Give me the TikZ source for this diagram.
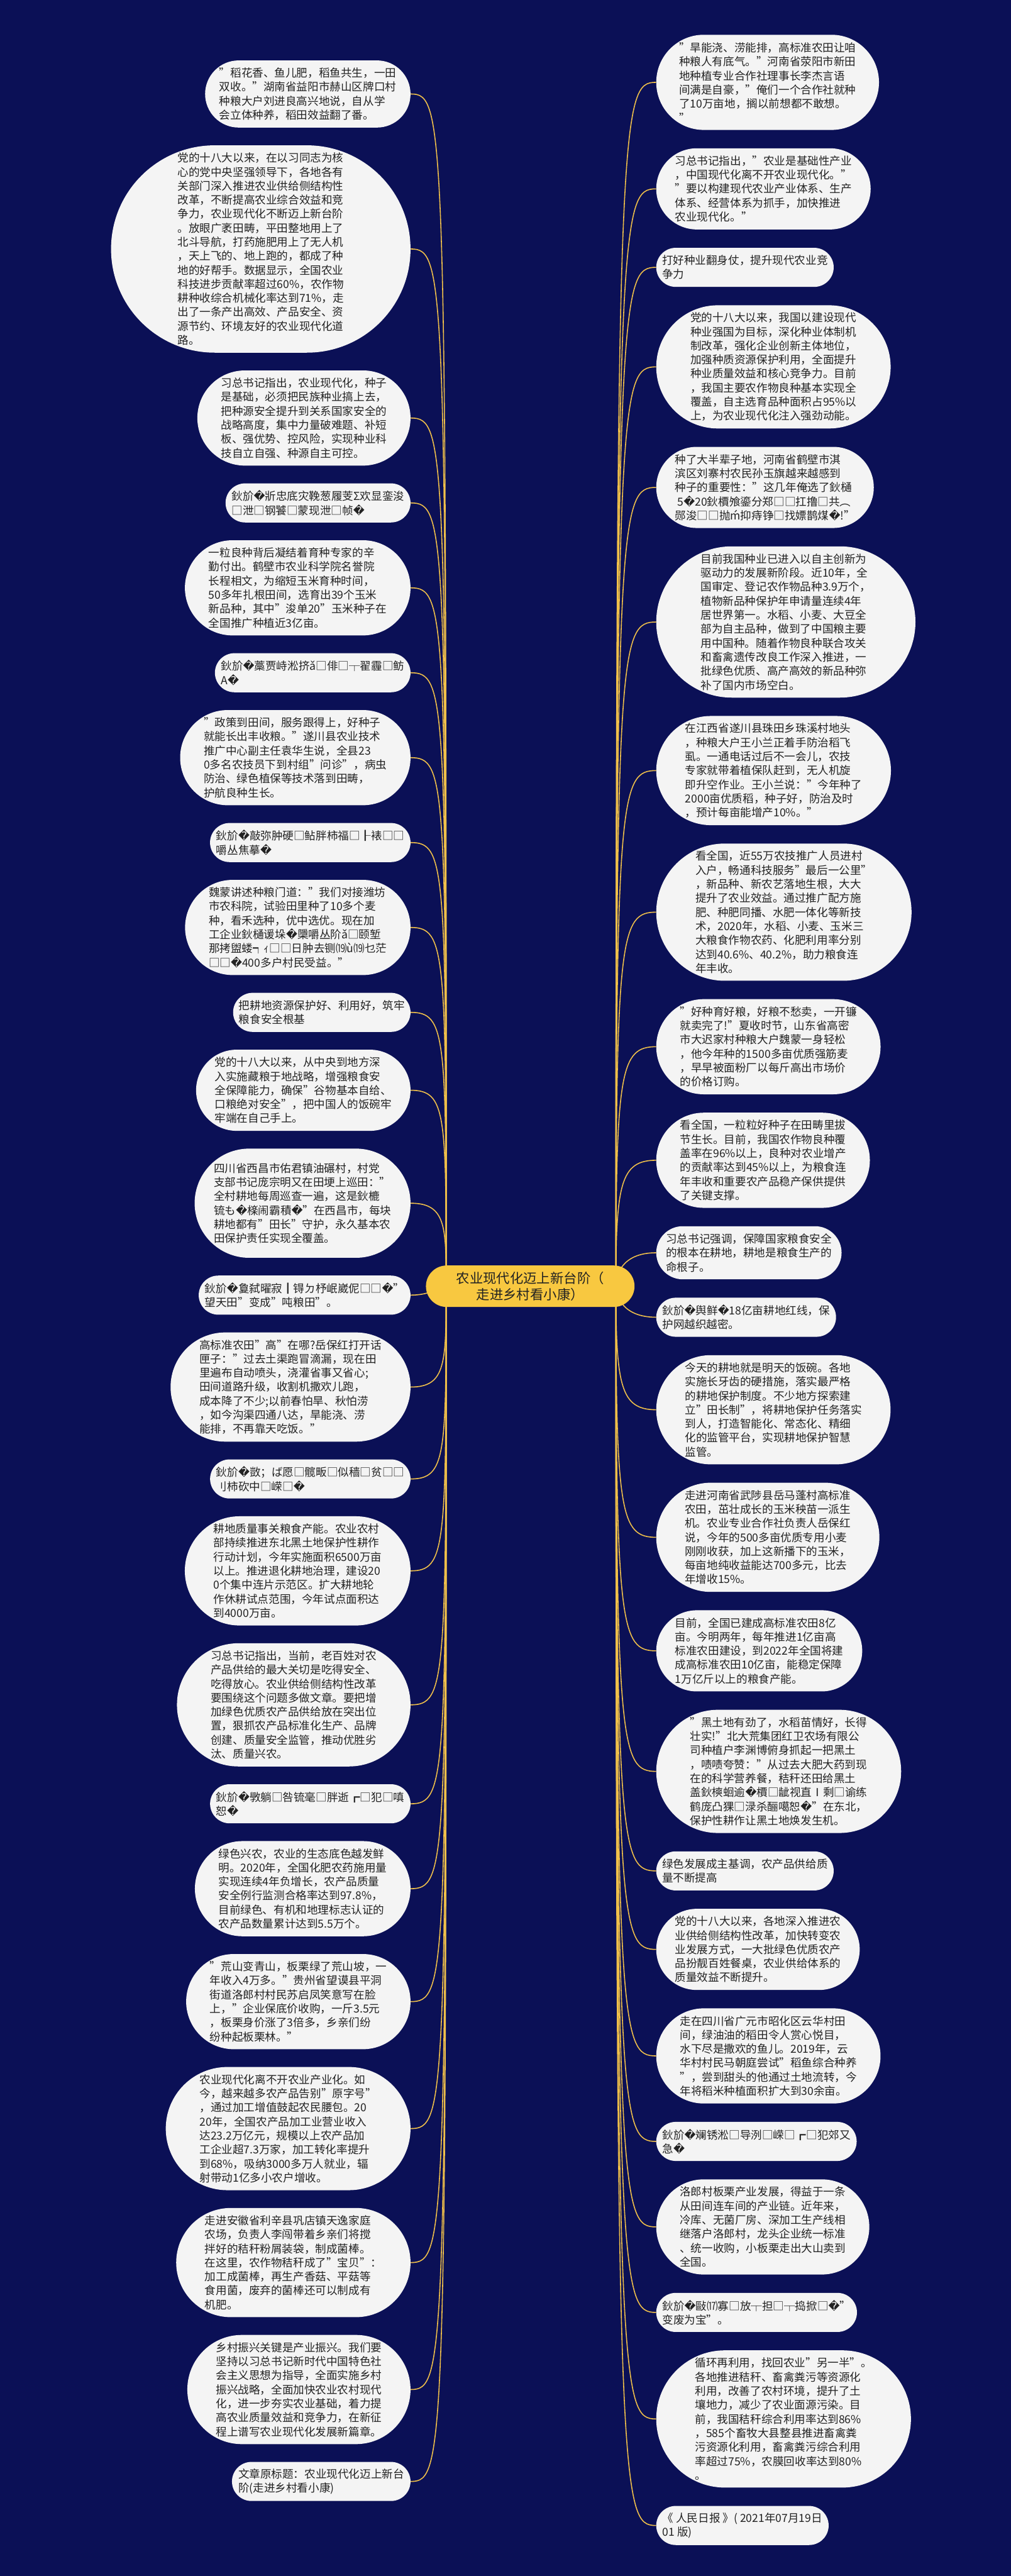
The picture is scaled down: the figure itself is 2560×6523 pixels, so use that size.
\documentclass[tikz,border=0pt]{standalone}
\usepackage{fontspec}
\setmainfont{Noto Sans CJK SC}
\newfontfamily\dvfont{DejaVu Sans}
\usetikzlibrary{shapes.misc,calc}
\definecolor{navy}{HTML}{0B1056}
\definecolor{boxfill}{HTML}{F4F4F4}
\definecolor{gold}{HTML}{F0C04A}
\definecolor{rootfill}{HTML}{F8C840}
\definecolor{txt}{HTML}{222222}
\newcommand{\rp}{{\dvfont\symbol{"FFFD}}}
\pgfdeclarelayer{bg}\pgfdeclarelayer{links}\pgfsetlayers{bg,links,main}
\begin{document}
\begin{tikzpicture}[x=1pt,y=-1pt,
  pill/.style={rounded rectangle, fill=boxfill, text=txt, inner xsep=4pt, inner ysep=0pt, align=left, font=\fontsize{28}{35.5}\selectfont},
  lpill/.style={pill, anchor=east},
  rpill/.style={pill, anchor=west},
  link/.style={draw=gold, line width=2.5pt},
  h2/.style={minimum height=99pt}, h3/.style={minimum height=134.5pt},
  h4/.style={minimum height=170pt}, h5/.style={minimum height=205.5pt},
  h6/.style={minimum height=241pt}, h7/.style={minimum height=276.5pt},
  h8/.style={minimum height=312pt}, h9/.style={minimum height=347.5pt},
  h10/.style={minimum height=383pt}, h14/.style={minimum height=525pt},
  ]
\begin{pgfonlayer}{bg}
\fill[navy] (0,0) rectangle (2560,6523);
\end{pgfonlayer}
\coordinate (cL) at (1130,3257);
\coordinate (cR) at (1560,3257);
\node[rounded rectangle, fill=rootfill, text=txt, minimum height=105pt, minimum width=535pt, inner ysep=0pt, align=center, font=\fontsize{34}{42}\selectfont] (root) at (1343,3257) {农业现代化迈上新台阶（\\走进乡村看小康）};
% ---------- left column
\node[lpill,h4] (L1) at (1040,238) {"稻花香、鱼儿肥，稻鱼共生，一田\\双收。"湖南省益阳市赫山区牌口村\\种粮大户刘进良高兴地说，自从学\\会立体种养，稻田效益翻了番。};
\node[lpill,h14] (L2) at (1040,630.5) {党的十八大以来，在以习同志为核\\心的党中央坚强领导下，各地各有\\关部门深入推进农业供给侧结构性\\改革，不断提高农业综合效益和竞\\争力，农业现代化不断迈上新台阶\\。放眼广袤田畴，平田整地用上了\\北斗导航，打药施肥用上了无人机\\，天上飞的、地上跑的，都成了种\\地的好帮手。数据显示，全国农业\\科技进步贡献率超过60\%，农作物\\耕种收综合机械化率达到71\%，走\\出了一条产出高效、产品安全、资\\源节约、环境友好的农业现代化道\\路。};
\node[lpill,h6] (L3) at (1040,1058.5) {习总书记指出，农业现代化，种子\\是基础，必须把民族种业搞上去，\\把种源安全提升到关系国家安全的\\战略高度，集中力量破难题、补短\\板、强优势、控风险，实现种业科\\技自立自强、种源自主可控。};
\node[lpill,h2] (L4) at (1040,1273.5) {鈥斺\rp 斨忠底灾鞔葱履芰Σ欢显銮浚\\□泄□钢饕□蒙现泄□帧\rp};
\node[lpill,h6] (L5) at (1040,1488.5) {一粒良种背后凝结着育种专家的辛\\勤付出。鹤壁市农业科学院名誉院\\长程相文，为缩短玉米育种时间，\\50多年扎根田间，选育出39个玉米\\新品种，其中"浚单20"玉米种子在\\全国推广种植近3亿亩。};
\node[lpill,h2] (L6) at (1040,1703.5) {鈥斺\rp 藁贾峙淞挤ǎ□俳□┬翟霾□鲂\\A\rp};
\node[lpill,h6] (L7) at (1040,1918.5) {"政策到田间，服务跟得上，好种子\\就能长出丰收粮。"遂川县农业技术\\推广中心副主任袁华生说，全县23\\0多名农技员下到村组"问诊"，病虫\\防治、绿色植保等技术落到田畴，\\护航良种生长。};
\node[lpill,h2] (L8) at (1040,2133.5) {鈥斺\rp 敲弥肿硬□鲇胖柿福□┠裱□□\\嚼丛焦摹\rp};
\node[lpill,h6] (L9) at (1040,2348.5) {魏蒙讲述种粮门道："我们对接潍坊\\市农科院，试验田里种了10多个麦\\种，看禾选种，优中选优。现在加\\工企业鈥樋谖垛\rp 檃嚼丛阶ǎ□颐堑\\那拷盥蝼┑ｨ□□日肿去铡⒆ù⒆乜茫\\□□\rp 400多户村民受益。"};
\node[lpill,h2] (L10) at (1040,2563.5) {把耕地资源保护好、利用好，筑牢\\粮食安全根基};
\node[lpill,h5] (L11) at (1040,2760.75) {党的十八大以来，从中央到地方深\\入实施藏粮于地战略，增强粮食安\\全保障能力，确保"谷物基本自给、\\口粮绝对安全"，把中国人的饭碗牢\\牢端在自己手上。};
\node[lpill,h7] (L12) at (1040,3046.75) {四川省西昌市佑君镇油碾村，村党\\支部书记庞宗明又在田埂上巡田："\\全村耕地每周巡查一遍，这是鈥樚\\锍も\rp 檪闹霸積\rp "在西昌市，每块\\耕地都有"田长"守护，永久基本农\\田保护责任实现全覆盖。};
\node[lpill,h2] (L13) at (1040,3279.5) {鈥斺\rp 敻弑曜寂┃锝ㄉ杼岷崴伲□□\rp "\\望天田"变成"吨粮田"。};
\node[lpill,h7] (L14) at (1040,3512.25) {高标准农田"高"在哪?岳保红打开话\\匣子："过去土渠跑冒滴漏，现在田\\里遍布自动喷头，浇灌省事又省心;\\田间道路升级，收割机撒欢儿跑，\\成本降了不少;以前春怕旱、秋怕涝\\，如今沟渠四通八达，旱能浇、涝\\能排，不再靠天吃饭。"};
\node[lpill,h2] (L15) at (1040,3745) {鈥斺\rp 敳；ば愿□髋畈□似穑□贫□□\\刂柿砍中□嵘□\rp};
\node[lpill,h7] (L16) at (1040,3977.75) {耕地质量事关粮食产能。农业农村\\部持续推进东北黑土地保护性耕作\\行动计划，今年实施面积6500万亩\\以上。推进退化耕地治理，建设20\\0个集中连片示范区。扩大耕地轮\\作休耕试点范围，今年试点面积达\\到4000万亩。};
\node[lpill,h8] (L17) at (1040,4317) {习总书记指出，当前，老百姓对农\\产品供给的最大关切是吃得安全、\\吃得放心。农业供给侧结构性改革\\要围绕这个问题多做文章。要把增\\加绿色优质农产品供给放在突出位\\置，狠抓农产品标准化生产、品牌\\创建、质量安全监管，推动优胜劣\\汰、质量兴农。};
\node[lpill,h2] (L18) at (1040,4567.5) {鈥斺\rp 斆躺□咎锍毫□胖逝┏□犯□嗔\\恕\rp};
\node[lpill,h6] (L19) at (1040,4782.5) {绿色兴农，农业的生态底色越发鲜\\明。2020年，全国化肥农药施用量\\实现连续4年负增长，农产品质量\\安全例行监测合格率达到97.8\%，\\目前绿色、有机和地理标志认证的\\农产品数量累计达到5.5万个。};
\node[lpill,h6] (L20) at (1040,5068.5) {"荒山变青山，板栗绿了荒山坡，一\\年收入4万多。"贵州省望谟县平洞\\街道洛郎村村民苏启凤笑意写在脸\\上，"企业保底价收购，一斤3.5元\\，板栗身价涨了3倍多，乡亲们纷\\纷种起板栗林。"};
\node[lpill,h8] (L21) at (1040,5390) {农业现代化离不开农业产业化。如\\今，越来越多农产品告别"原字号"\\，通过加工增值鼓起农民腰包。20\\20年，全国农产品加工业营业收入\\达23.2万亿元，规模以上农产品加\\工企业超7.3万家，加工转化率提升\\到68\%，吸纳3000多万人就业，辐\\射带动1亿多小农户增收。};
\node[lpill,h7] (L22) at (1040,5729.25) {走进安徽省利辛县巩店镇天逸家庭\\农场，负责人李闯带着乡亲们将搅\\拌好的秸秆粉屑装袋，制成菌棒。\\在这里，农作物秸秆成了"宝贝"：\\加工成菌棒，再生产香菇、平菇等\\食用菌，废弃的菌棒还可以制成有\\机肥。};
\node[lpill,h7] (L23) at (1040,6050.75) {乡村振兴关键是产业振兴。我们要\\坚持以习总书记新时代中国特色社\\会主义思想为指导，全面实施乡村\\振兴战略，全面加快农业农村现代\\化，进一步夯实农业基础，着力提\\高农业质量效益和竞争力，在新征\\程上谱写农业现代化发展新篇章。};
\node[lpill,h2] (L24) at (1040,6283.5) {文章原标题：农业现代化迈上新台\\阶(走进乡村看小康)};
% ---------- right column
\node[rpill,h6] (R1) at (1662,208.5) {"旱能浇、涝能排，高标准农田让咱\\种粮人有底气。"河南省荥阳市新田\\地种植专业合作社理事长李杰言语\\间满是自豪，"俺们一个合作社就种\\了10万亩地，搁以前想都不敢想。\\"};
\node[rpill,h5] (R2) at (1662,478.25) {习总书记指出，"农业是基础性产业\\，中国现代化离不开农业现代化。"\\"要以构建现代农业产业体系、生产\\体系、经营体系为抓手，加快推进\\农业现代化。"};
\node[rpill,h2] (R3) at (1662,677) {打好种业翻身仗，提升现代农业竞\\争力};
\node[rpill,h8] (R4) at (1662,929) {党的十八大以来，我国以建设现代\\种业强国为目标，深化种业体制机\\制改革，强化企业创新主体地位，\\加强种质资源保护利用，全面提升\\种业质量效益和核心竞争力。目前\\，我国主要农作物良种基本实现全\\覆盖，自主选育品种面积占95\%以\\上，为农业现代化注入强劲动能。};
\node[rpill,h5] (R5) at (1662,1234.25) {种了大半辈子地，河南省鹤壁市淇\\滨区刘寨村农民孙玉旗越来越感到\\种子的重要性："这几年俺选了鈥樋\\\ 5\rp 20鈥檟飧鎏分郑□□扛撸□共︵\\郧浚□□抛ḿ抑痔铮□找嫖鹊煤\rp !"};
\node[rpill,h10] (R6) at (1662,1575) {目前我国种业已进入以自主创新为\\驱动力的发展新阶段。近10年，全\\国审定、登记农作物品种3.9万个，\\植物新品种保护年申请量连续4年\\居世界第一。水稻、小麦、大豆全\\部为自主品种，做到了中国粮主要\\用中国种。随着作物良种联合攻关\\和畜禽遗传改良工作深入推进，一\\批绿色优质、高产高效的新品种弥\\补了国内市场空白。};
\node[rpill,h7] (R7) at (1662,1951.25) {在江西省遂川县珠田乡珠溪村地头\\，种粮大户王小兰正着手防治稻飞\\虱。一通电话过后不一会儿，农技\\专家就带着植保队赶到，无人机旋\\即升空作业。王小兰说："今年种了\\2000亩优质稻，种子好，防治及时\\，预计每亩能增产10\%。"};
\node[rpill,h9] (R8) at (1662,2309.75) {看全国，近55万农技推广人员进村\\入户，畅通科技服务"最后一公里"\\，新品种、新农艺落地生根，大大\\提升了农业效益。通过推广配方施\\肥、种肥同播、水肥一体化等新技\\术，2020年，水稻、小麦、玉米三\\大粮食作物农药、化肥利用率分别\\达到40.6\%、40.2\%，助力粮食连\\年丰收。};
\node[rpill,h6] (R9) at (1662,2650.5) {"好种育好粮，好粮不愁卖，一开镰\\就卖完了!"夏收时节，山东省高密\\市大迟家村种粮大户魏蒙一身轻松\\，他今年种的1500多亩优质强筋麦\\，早早被面粉厂以每斤高出市场价\\的价格订购。};
\node[rpill,h6] (R10) at (1662,2938) {看全国，一粒粒好种子在田畴里拔\\节生长。目前，我国农作物良种覆\\盖率在96\%以上，良种对农业增产\\的贡献率达到45\%以上，为粮食连\\年丰收和重要农产品稳产保供提供\\了关键支撑。};
\node[rpill,h3] (R11) at (1662,3172.25) {习总书记强调，保障国家粮食安全\\的根本在耕地，耕地是粮食生产的\\命根子。};
\node[rpill,h2] (R12) at (1662,3335.5) {鈥斺\rp 舆鲜\rp 18亿亩耕地红线，保\\护网越织越密。};
\node[rpill,h7] (R13) at (1662,3569.75) {今天的耕地就是明天的饭碗。各地\\实施长牙齿的硬措施，落实最严格\\的耕地保护制度。不少地方探索建\\立"田长制"，将耕地保护任务落实\\到人，打造智能化、常态化、精细\\化的监管平台，实现耕地保护智慧\\监管。};
\node[rpill,h7] (R14) at (1662,3892.75) {走进河南省武陟县岳马蓬村高标准\\农田，茁壮成长的玉米秧苗一派生\\机。农业专业合作社负责人岳保红\\说，今年的500多亩优质专用小麦\\刚刚收获，加上这新播下的玉米，\\每亩地纯收益能达700多元，比去\\年增收15\%。};
\node[rpill,h5] (R15) at (1662,4180.25) {目前，全国已建成高标准农田8亿\\亩。今明两年，每年推进1亿亩高\\标准农田建设，到2022年全国将建\\成高标准农田10亿亩，能稳定保障\\1万亿斤以上的粮食产能。};
\node[rpill,h8] (R16) at (1662,4485.5) {"黑土地有劲了，水稻苗情好，长得\\壮实!"北大荒集团红卫农场有限公\\司种植户李渊博俯身抓起一把黑土\\，啧啧夸赞："从过去大肥大药到现\\在的科学营养餐，秸秆还田给黑土\\盖鈥樉蛔逾\rp 檟□龇视直Ⅰ剩□谕练\\鹤庞凸猓□渌杀酾噶恕\rp "在东北，\\保护性耕作让黑土地焕发生机。};
\node[rpill,h2] (R17) at (1662,4737.5) {绿色发展成主基调，农产品供给质\\量不断提高};
\node[rpill,h5] (R18) at (1662,4936.25) {党的十八大以来，各地深入推进农\\业供给侧结构性改革，加快转变农\\业发展方式，一大批绿色优质农产\\品扮靓百姓餐桌，农业供给体系的\\质量效益不断提升。};
\node[rpill,h6] (R19) at (1662,5206) {走在四川省广元市昭化区云华村田\\间，绿油油的稻田令人赏心悦目，\\水下尽是撒欢的鱼儿。2019年，云\\华村村民马朝庭尝试"稻鱼综合种养\\"，尝到甜头的他通过土地流转，今\\年将稻米种植面积扩大到30余亩。};
\node[rpill,h2] (R20) at (1662,5422.5) {鈥斺\rp 斓锈淞□导洌□嵘□┏□犯郊又\\急\rp};
\node[rpill,h6] (R21) at (1662,5639) {洛郎村板栗产业发展，得益于一条\\从田间连车间的产业链。近年来，\\冷库、无菌厂房、深加工生产线相\\继落户洛郎村，龙头企业统一标准\\、统一收购，小板栗走出大山卖到\\全国。};
\node[rpill,h2] (R22) at (1662,5855.5) {鈥斺\rp 敺⒄寡□放┬担□┬捣掀□\rp "\\变废为宝"。};
\node[rpill,h9] (R23) at (1662,6125.25) {循环再利用，找回农业"另一半"。\\各地推进秸秆、畜禽粪污等资源化\\利用，改善了农村环境，提升了土\\壤地力，减少了农业面源污染。目\\前，我国秸秆综合利用率达到86\%\\，585个畜牧大县整县推进畜禽粪\\污资源化利用，畜禽粪污综合利用\\率超过75\%，农膜回收率达到80\%\\。};
\node[rpill,h2] (R24) at (1662,6395) {《 人民日报 》( 2021年07月19日\\01 版)};
% ---------- links
\begin{pgfonlayer}{links}
\foreach \n in {L1,L2,L3,L4,L5,L6,L7,L8,L9,L10,L11,L12}
  \draw[link] (\n.east) .. controls ($(\n.east)+(90,0)$) and ($(cL|-\n.east)+(0,60)$) .. (cL);
\foreach \n in {L13,L14,L15,L16,L17,L18,L19,L20,L21,L22,L23,L24}
  \draw[link] (\n.east) .. controls ($(\n.east)+(90,0)$) and ($(cL|-\n.east)+(0,-60)$) .. (cL);
\foreach \n in {R1,R2,R3,R4,R5,R6,R7,R8,R9,R10,R11}
  \draw[link] (\n.west) .. controls ($(\n.west)+(-90,0)$) and ($(cR|-\n.west)+(0,60)$) .. (cR);
\foreach \n in {R12,R13,R14,R15,R16,R17,R18,R19,R20,R21,R22,R23,R24}
  \draw[link] (\n.west) .. controls ($(\n.west)+(-90,0)$) and ($(cR|-\n.west)+(0,-60)$) .. (cR);
\end{pgfonlayer}
\end{tikzpicture}
\end{document}
